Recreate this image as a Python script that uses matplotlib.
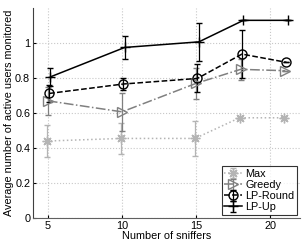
import numpy as np
import matplotlib
matplotlib.use("Agg")
from matplotlib import pyplot as plt

# number of sniffers (each series is nudged a bit sideways in the original)
sniffers = [5, 10, 15, 18, 21]
offsets = {"Max": -0.08, "Greedy": 0.0, "LP-Round": 0.08, "LP-Up": 0.18}

max_y = [0.44, 0.455, 0.455, 0.573, 0.573]
max_err = [0.093, 0.087, 0.10, 0.0, 0.0]

greedy_y = [0.67, 0.607, 0.77, 0.85, 0.842]
greedy_err = [0.08, 0.107, 0.09, 0.06, 0.0]

round_y = [0.712, 0.766, 0.798, 0.937, 0.89]
round_err = [0.05, 0.035, 0.08, 0.135, 0.0]

up_y = [0.807, 0.975, 1.007, 1.13, 1.13]
up_err = [0.05, 0.065, 0.11, 0.0, 0.0]

plt.rcParams['font.family'] = ['Liberation Sans', 'DejaVu Sans']
plt.rcParams['font.size'] = 7.8

fig = plt.figure(figsize=(3.05, 2.45), dpi=100)
ax = fig.add_axes([0.108, 0.11, 0.876, 0.857])

def series(name, y, err, color, ls, marker, ms, mfc):
    x = np.array(sniffers) + offsets[name]
    ax.errorbar(x, y, yerr=err, color=color, ls=ls, lw=1.1, marker=marker,
                ms=ms, mfc=mfc, mec=color, mew=1.0, capsize=2.3, elinewidth=0.9,
                capthick=0.9, label=name)

series("Max", max_y, max_err, "#b4b4b4", ":", (8, 2, 0), 7, "#b4b4b4")
series("Greedy", greedy_y, greedy_err, "#808080", "-.", ">", 6.5, "none")
series("LP-Round", round_y, round_err, "black", "--", "o", 6.5, "none")
series("LP-Up", up_y, up_err, "black", "-", "+", 7, "black")

ax.set_xlim(4, 22)
ax.set_ylim(0, 1.2)
ax.set_xticks([5, 10, 15, 20])
ax.set_yticks([0, 0.2, 0.4, 0.6, 0.8, 1])
ax.set_yticklabels(["0", "0.2", "0.4", "0.6", "0.8", "1"])
ax.grid(True, ls=":", color="#c8c8c8", lw=0.8)
ax.spines['top'].set_visible(False)
ax.spines['right'].set_visible(False)
ax.spines['left'].set_color("#404040")
ax.spines['bottom'].set_color("#606060")
ax.tick_params(direction="in", length=2, pad=2)
ax.set_xlabel("Number of sniffers", labelpad=0)
ax.set_ylabel("Average number of active users monitored", labelpad=1)

leg = ax.legend(loc="lower right", fancybox=False, edgecolor="black",
                handlelength=1.6, handletextpad=0.3, borderpad=0.25,
                labelspacing=0.1, borderaxespad=0.3)
leg.get_frame().set_linewidth(0.8)

fig.savefig("out.png", dpi=100)
